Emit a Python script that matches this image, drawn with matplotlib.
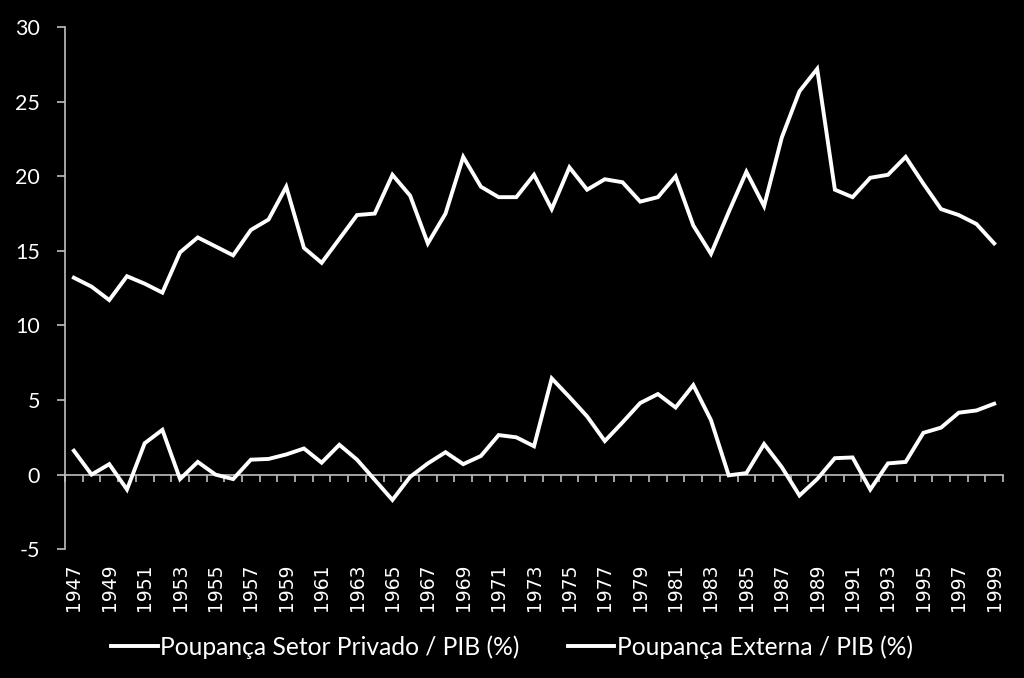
import numpy as np
import matplotlib.pyplot as plt

plt.rcParams["axes.unicode_minus"] = False

years = np.arange(1947, 2000)

privado = [13.2, 12.6, 11.7, 13.3, 12.8, 12.2, 14.9, 15.9, 15.3, 14.7,
           16.4, 17.1, 19.3, 15.2, 14.2, 15.8, 17.4, 17.5, 20.1, 18.7,
           15.5, 17.5, 21.3, 19.3, 18.6, 18.6, 20.1, 17.8, 20.6, 19.1,
           19.8, 19.6, 18.3, 18.6, 20.0, 16.7, 14.8, 17.6, 20.3, 18.0,
           22.6, 25.7, 27.2, 19.1, 18.6, 19.9, 20.1, 21.3, 19.5, 17.8,
           17.4, 16.8, 15.5]

externa = [1.6, 0.0, 0.7, -1.0, 2.1, 3.0, -0.3, 0.85, 0.0, -0.3,
           1.0, 1.05, 1.35, 1.75, 0.8, 2.0, 1.0, -0.35, -1.7, -0.15,
           0.75, 1.5, 0.7, 1.25, 2.65, 2.5, 1.9, 6.45, 5.2, 3.9,
           2.25, 3.5, 4.8, 5.4, 4.5, 6.0, 3.65, -0.05, 0.1, 2.05,
           0.5, -1.4, -0.3, 1.1, 1.15, -1.0, 0.75, 0.85, 2.8, 3.15,
           4.15, 4.3, 4.75]

labels = ["Poupança Setor Privado / PIB (%)", "Poupança Externa / PIB (%)"]

fg = "white"
axis_col = "#bfbfbf"

fig = plt.figure(figsize=(10.24, 6.78), dpi=100, facecolor="black")
ax = fig.add_axes([0.0635, 0.19, 0.916, 0.77], facecolor="black")

ax.plot(years, privado, color=fg, lw=2.8, label=labels[0], solid_joinstyle="miter")
ax.plot(years, externa, color=fg, lw=2.8, label=labels[1], solid_joinstyle="miter")

ax.set_xlim(years[0] - 0.5, years[-1] + 0.5)
ax.set_ylim(-5, 30)
ax.set_yticks(np.arange(-5, 31, 5))

for s in ["top", "right", "bottom"]:
    ax.spines[s].set_visible(False)
ax.spines["left"].set_color(axis_col)
ax.spines["left"].set_linewidth(1.2)

ax.tick_params(axis="y", colors=axis_col, length=6, width=1.2, pad=12,
               labelcolor=fg, labelsize=15.5)
for t in ax.get_yticklabels():
    t.set_family(["Lato", "DejaVu Sans"])

ax.set_xticks(years[::2])
ax.set_xticklabels([str(y) for y in years[::2]], rotation=90,
                   fontsize=13.5, color=fg)
ax.tick_params(axis="x", length=0, pad=10)

# horizontal axis drawn at y = 0 with category boundary ticks
zero_ax = ax.secondary_xaxis(0, transform=ax.transData)
zero_ax.spines["bottom"].set_color(axis_col)
zero_ax.spines["bottom"].set_linewidth(1.2)
zero_ax.set_xticks(np.arange(years[0] - 0.5, years[-1] + 1, 1))
zero_ax.tick_params(axis="x", colors=axis_col, length=5, width=1.2,
                    labelbottom=False)

leg = fig.legend(loc="lower center", bbox_to_anchor=(0.5, -0.004), ncol=2,
                 frameon=False, handlelength=1.9, handletextpad=0.1,
                 columnspacing=1.95,
                 prop={"family": ["Lato", "DejaVu Sans"], "size": 17.7})
for t in leg.get_texts():
    t.set_color(fg)

fig.savefig("out.png", dpi=100, facecolor="black")
